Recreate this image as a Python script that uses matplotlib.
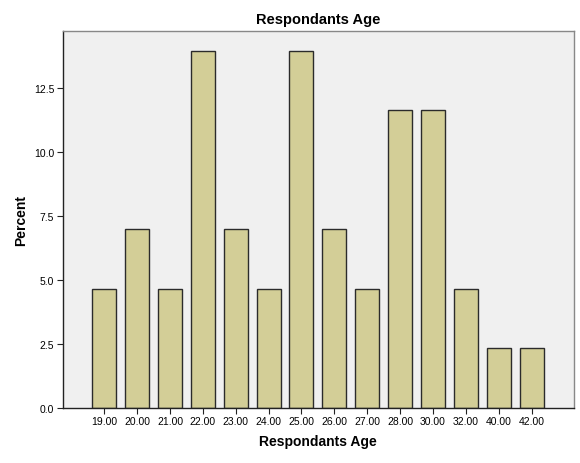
import matplotlib
matplotlib.use('Agg')
import matplotlib.pyplot as plt

ages = ['19.00', '20.00', '21.00', '22.00', '23.00', '24.00', '25.00',
        '26.00', '27.00', '28.00', '30.00', '32.00', '40.00', '42.00']
percent = [4.65, 6.98, 4.65, 13.95, 6.98, 4.65, 13.95,
           6.98, 4.65, 11.63, 11.63, 4.65, 2.33, 2.33]
yticks = [0.0, 2.5, 5.0, 7.5, 10.0, 12.5]

plt.rcParams['font.family'] = ['Liberation Sans', 'DejaVu Sans']

fig = plt.figure(figsize=(5.8, 4.64), dpi=100)
ax = fig.add_axes([0.1078, 0.1196, 0.8812, 0.8104])
ax.set_facecolor('#f0f0f0')

pos = list(range(len(ages)))
ax.bar(pos, percent, width=0.73, color='#d3ce97', edgecolor='#2b2b2b',
       linewidth=1.0, zorder=2)

ax.set_xlim(-1.27, len(ages) - 1 + 1.28)
ax.set_ylim(0, 14.72)
ax.set_xticks(pos)
ax.set_xticklabels(ages, fontsize=7.5)
ax.set_yticks(yticks)
ax.set_yticklabels(['%.1f' % v for v in yticks], fontsize=7.5)
ax.tick_params(direction='out', length=4, width=0.8, color='#222222', pad=2)

ax.spines['left'].set_color('#222222')
ax.spines['bottom'].set_color('#222222')
ax.spines['top'].set_color('#888888')
ax.spines['right'].set_color('#888888')
for s in ax.spines.values():
    s.set_linewidth(1.0)

ax.set_title('Respondants Age', fontsize=10.5, fontweight='bold', pad=6)
ax.set_xlabel('Respondants Age', fontsize=10, fontweight='bold', labelpad=6)
ax.set_ylabel('Percent', fontsize=10, fontweight='bold', labelpad=4)

fig.savefig('out.png', dpi=100)
